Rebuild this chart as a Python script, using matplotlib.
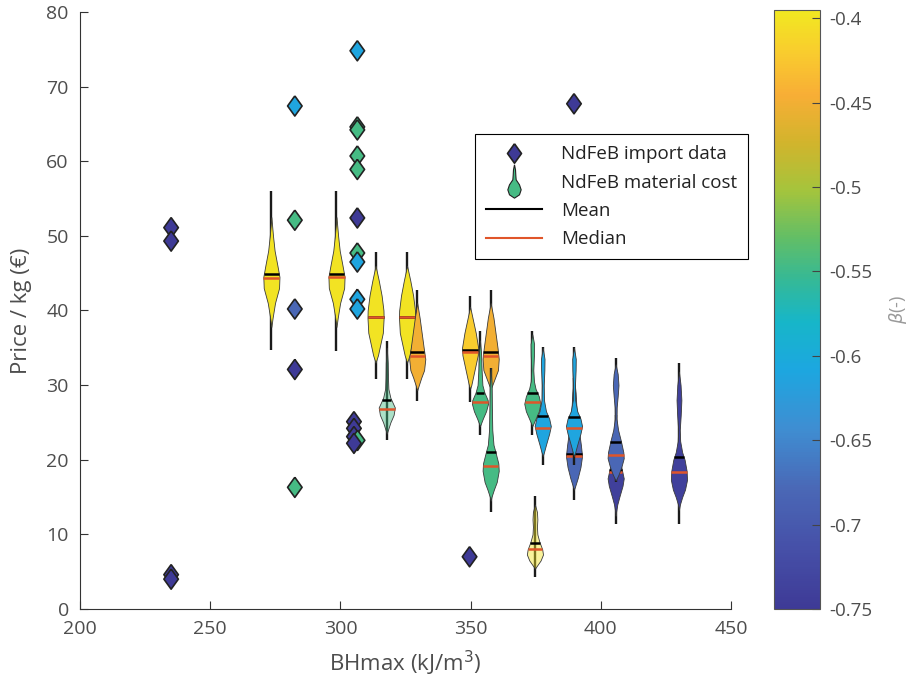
import numpy as np
import matplotlib
matplotlib.use("Agg")
import matplotlib.pyplot as plt
from matplotlib.colors import LinearSegmentedColormap, Normalize, to_rgba
from matplotlib.cm import ScalarMappable
from matplotlib.lines import Line2D
from matplotlib.path import Path

plt.rcParams['font.family'] = ['Open Sans', 'DejaVu Sans']

# ---- data: import prices (diamonds) ----
import_bh = [235, 235, 235, 235,
             282.5, 282.5, 282.5, 282.5, 282.5,
             306.5, 306.5, 306.5, 306.5, 306.5, 306.5, 306.5, 306.5, 306.5, 306.5,
             305.2, 305.2, 305.2, 306.6, 305.2,
             349.6, 389.7]
import_price = [51.1, 49.3, 4.6, 4.0,
                67.4, 52.1, 40.2, 32.1, 16.3,
                74.8, 64.6, 64.2, 60.7, 58.9, 52.4, 47.7, 46.5, 41.5, 40.2,
                25.1, 24.2, 23.1, 22.6, 22.2,
                7.0, 67.7]
import_beta = [-0.75, -0.75, -0.75, -0.75,
               -0.61, -0.545, -0.68, -0.75, -0.545,
               -0.61, -0.545, -0.545, -0.545, -0.545, -0.75, -0.545, -0.61, -0.61, -0.61,
               -0.75, -0.75, -0.75, -0.545, -0.75,
               -0.75, -0.75]

# ---- data: material cost distributions (violins) ----
violin_bh = [273.5, 298.5, 313.5, 317.8, 325.6, 329.5, 349.8, 353.6, 357.7, 357.7,
             373.7, 374.7, 377.7, 389.7, 389.7, 405.7, 405.7, 430.0]
violin_beta = [-0.40, -0.40, -0.40, -0.545, -0.40, -0.45, -0.42, -0.545, -0.45, -0.545,
               -0.545, -0.40, -0.61, -0.68, -0.61, -0.74, -0.68, -0.74]
violin_faded = [False, False, False, True, False, False, False, False, False, False,
                False, True, False, False, False, False, False, False]
violin_min = [34.7, 34.6, 30.8, 22.6, 30.8, 27.9, 27.8, 23.3, 30.0, 13.0,
              23.3, 4.3, 19.3, 14.6, 19.3, 11.4, 17.0, 11.4]
violin_max = [56.0, 56.0, 47.8, 35.9, 47.8, 42.7, 41.9, 37.2, 42.7, 32.3,
              37.2, 15.1, 35.1, 31.0, 35.1, 26.0, 33.6, 32.9]
violin_mean = [44.9, 44.9, 39.1, 28.0, 39.1, 34.4, 34.7, 29.0, 34.5, 21.0,
               28.9, 8.9, 25.8, 20.8, 25.7, 18.6, 22.4, 20.3]
violin_median = [44.4, 44.5, 39.1, 26.8, 39.1, 33.9, 34.4, 27.8, 33.9, 19.1,
                 27.8, 8.0, 24.2, 20.5, 24.2, 18.3, 20.6, 18.3]
violin_levels = [
    [52.5, 50, 48, 46, 44.5, 43, 42, 41, 40, 39, 37.8],
    [52.5, 50, 48, 46, 44.5, 43, 42, 41, 40, 39, 37.8],
    [46, 44, 42, 40, 39, 37, 35.5, 34, 33],
    [35, 33, 31, 29.5, 28.3, 27, 26, 25, 24, 23.5],
    [46, 44, 42, 40, 39, 37, 35.5, 34, 33],
    [41, 39, 37, 35, 33.5, 32, 31, 30, 29.3],
    [40.5, 39, 37, 35, 34, 32.5, 31, 30, 29.5],
    [36, 34, 32, 30, 29, 28, 27.5, 26.5, 25.5, 24.5],
    [41, 39, 37, 35, 33.5, 32, 31, 30, 29.5],
    [32.3, 30, 27, 24, 22, 21, 19.5, 18.5, 17, 16, 15, 14.5],
    [36.8, 35.5, 34, 32, 30.5, 29.5, 28.5, 27.5, 26.5, 25.5, 24.5],
    [14, 13, 12, 11, 10, 9, 8, 7.3, 6.5, 5.8, 5.4],
    [35, 33.5, 32, 30, 28, 26.5, 25.5, 24.5, 23.5, 22, 21, 20.5],
    [31, 29, 27, 25.5, 24, 22, 20.5, 19, 17.5, 16.3, 16],
    [35, 33.5, 32, 30, 28, 26.5, 25.5, 24.5, 23.5, 22, 21, 20.5],
    [26, 24, 22, 20, 19, 17.5, 16.5, 15, 14, 13, 12.5],
    [32.8, 31.5, 30, 28.5, 27, 25.5, 24, 22.5, 21, 20.2, 19, 18, 17.2],
    [31.8, 30, 28, 26, 24, 22.5, 21, 20, 18.5, 17.3, 16, 15, 14, 13.3],
]
violin_density = [
    [0, 0.2, 0.4, 0.75, 1.0, 0.95, 0.7, 0.45, 0.3, 0.15, 0],
    [0, 0.2, 0.4, 0.75, 1.0, 0.95, 0.7, 0.45, 0.3, 0.15, 0],
    [0, 0.4, 0.75, 0.98, 1.0, 0.9, 0.6, 0.3, 0],
    [0, 0.12, 0.15, 0.2, 0.45, 1.0, 0.85, 0.45, 0.15, 0],
    [0, 0.4, 0.75, 0.98, 1.0, 0.9, 0.6, 0.3, 0],
    [0, 0.3, 0.55, 0.8, 1.0, 0.85, 0.5, 0.2, 0],
    [0, 0.3, 0.7, 1.0, 0.95, 0.65, 0.35, 0.15, 0],
    [0, 0.15, 0.2, 0.3, 0.55, 0.95, 1.0, 0.75, 0.35, 0],
    [0, 0.35, 0.6, 0.85, 1.0, 0.9, 0.55, 0.2, 0],
    [0, 0.12, 0.15, 0.2, 0.35, 0.6, 0.95, 1.0, 0.75, 0.4, 0.1, 0],
    [0, 0.22, 0.2, 0.12, 0.2, 0.4, 0.8, 1.0, 0.8, 0.4, 0],
    [0, 0.25, 0.3, 0.25, 0.3, 0.55, 0.9, 1.0, 0.7, 0.25, 0],
    [0, 0.22, 0.2, 0.12, 0.15, 0.4, 0.8, 1.0, 0.8, 0.4, 0.15, 0],
    [0, 0.2, 0.3, 0.45, 0.6, 0.85, 1.0, 0.8, 0.45, 0.1, 0],
    [0, 0.22, 0.2, 0.12, 0.15, 0.4, 0.8, 1.0, 0.8, 0.4, 0.15, 0],
    [0, 0.1, 0.15, 0.3, 0.7, 1.0, 0.85, 0.45, 0.2, 0.05, 0],
    [0, 0.25, 0.35, 0.25, 0.12, 0.1, 0.3, 0.65, 0.95, 1.0, 0.7, 0.35, 0],
    [0, 0.2, 0.3, 0.22, 0.1, 0.15, 0.4, 0.7, 0.95, 1.0, 0.75, 0.4, 0.12, 0],
]

x_ticks = [200, 250, 300, 350, 400, 450]
y_ticks = [0, 10, 20, 30, 40, 50, 60, 70, 80]
cbar_ticks = [-0.75, -0.7, -0.65, -0.6, -0.55, -0.5, -0.45, -0.4]
cbar_labels = ['-0.75', '-0.7', '-0.65', '-0.6', '-0.55', '-0.5', '-0.45', '-0.4']

# parula-like map
cmap = LinearSegmentedColormap.from_list('parula_like', [
    (0.00, '#3e3a96'), (0.10, '#4650a8'), (0.20, '#4a68b6'), (0.30, '#3f8ed2'),
    (0.40, '#1ca7e0'), (0.48, '#17b6c8'), (0.55, '#35b996'), (0.62, '#62be66'),
    (0.70, '#a5c43c'), (0.78, '#d2b42c'), (0.86, '#f8ae36'), (0.93, '#f9cc2e'),
    (1.00, '#f1e821')])
norm = Normalize(vmin=-0.75, vmax=-0.395)

txt = '#4d4d4d'
median_col = '#e0552a'
half_w = 3.1

fig = plt.figure(figsize=(9.13, 6.91), dpi=100)
ax = fig.add_axes([0.0876, 0.1187, 0.7131, 0.8640])

for i in range(len(violin_bh)):
    x0 = violin_bh[i]
    ys = np.array(violin_levels[i], dtype=float)
    ws = np.array(violin_density[i], dtype=float) * half_w
    col = cmap(norm(violin_beta[i]))
    face = to_rgba(col, 0.45) if violin_faded[i] else col
    z = 2 + i * 0.01
    # whisker first, then the body, then mean / median bars
    ax.plot([x0, x0], [violin_min[i], violin_max[i]], color='#1a1a1a', lw=1.7,
            solid_capstyle='butt', zorder=z)
    ax.fill_betweenx(ys, x0 - ws, x0 + ws, facecolor=face, edgecolor='#3a3a3a',
                     lw=0.6, zorder=z + 0.003)
    for v, c in ((violin_mean[i], 'black'), (violin_median[i], median_col)):
        w = np.interp(v, ys[::-1], ws[::-1])
        ax.plot([x0 - w, x0 + w], [v, v], color=c, lw=1.8, solid_capstyle='butt',
                zorder=z + 0.006)

diamond = [(0, 1), (0.72, 0), (0, -1), (-0.72, 0), (0, 1)]
ax.scatter(import_bh, import_price, c=import_beta, cmap=cmap, norm=norm,
           marker=diamond, s=14.5 ** 2, edgecolors='#222222', linewidths=1.2, zorder=5)

ax.set_xlim(200, 450)
ax.set_ylim(0, 80)
ax.set_xticks(x_ticks)
ax.set_yticks(y_ticks)
for s in ('top', 'right'):
    ax.spines[s].set_visible(False)
for s in ('left', 'bottom'):
    ax.spines[s].set_color('#333333')
    ax.spines[s].set_linewidth(0.8)
ax.tick_params(direction='in', length=6, width=0.8, color='#333333',
               labelsize=14, labelcolor=txt, pad=8)
ax.set_xlabel('BHmax (kJ/m$^3$)', fontsize=16, color=txt, labelpad=8)
ax.set_ylabel('Price / kg (€)', fontsize=16, color=txt, labelpad=10)

# legend
violin_icon = Path([(0, 1), (0.06, 0.7), (0.08, 0.35), (0.1, 0.1), (0.3, -0.2),
                    (0.4, -0.5), (0.3, -0.8), (0, -1), (-0.3, -0.8), (-0.4, -0.5),
                    (-0.3, -0.2), (-0.1, 0.1), (-0.08, 0.35), (-0.06, 0.7), (0, 1)])
handles = [
    Line2D([], [], ls='none', marker=diamond, markersize=14,
           markerfacecolor=cmap(norm(-0.75)), markeredgecolor='#222222', markeredgewidth=1.2),
    Line2D([], [], ls='none', marker=violin_icon, markersize=24,
           markerfacecolor=cmap(norm(-0.545)), markeredgecolor='#222222', markeredgewidth=0.8),
    Line2D([], [], color='black', lw=1.5),
    Line2D([], [], color=median_col, lw=1.5),
]
labels = ['NdFeB import data', 'NdFeB material cost', 'Mean', 'Median']
leg = ax.legend(handles, labels, loc='upper left', bbox_to_anchor=(0.520, 0.806),
                bbox_transform=fig.transFigure, fontsize=13.5, frameon=True,
                fancybox=False, framealpha=1, edgecolor='black', borderaxespad=0,
                handlelength=3.0, handletextpad=1.0, labelspacing=0.55, borderpad=0.6)
leg.get_frame().set_linewidth(0.8)
for t in leg.get_texts():
    t.set_color('#222222')

# colour bar
cax = fig.add_axes([0.8477, 0.1187, 0.0504, 0.8670])
cb = fig.colorbar(ScalarMappable(norm=norm, cmap=cmap), cax=cax)
cb.set_ticks(cbar_ticks)
cb.set_ticklabels(cbar_labels)
cb.outline.set_edgecolor('#555555')
cb.outline.set_linewidth(0.8)
cax.tick_params(direction='in', length=6, width=0.8, color='#444444',
                labelsize=13.5, labelcolor=txt, pad=7)
cb.set_label(r'$\beta$(-)', fontsize=13, color='#9a9a9a', labelpad=10)

fig.savefig('out.png', dpi=100)
